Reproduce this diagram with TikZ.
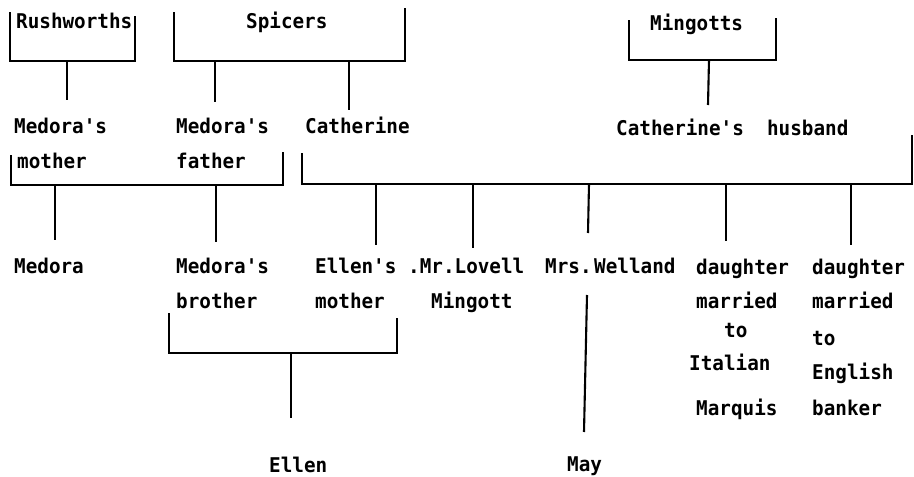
\documentclass[tikz,border=0pt]{standalone}
\usepackage{fontspec}
\setmonofont[FakeStretch=0.95]{DejaVu Sans Mono}
\begin{document}
\begin{tikzpicture}[x=1pt,y=-1pt,
  lbl/.style={anchor=base west,inner sep=0pt,font=\ttfamily\bfseries\fontsize{20.3}{21}\selectfont},
  ln/.style={line width=2.1pt,line join=miter,line cap=butt}]
\useasboundingbox (0,0) rectangle (914,477);
% ---- text nodes
\node[lbl] (rush) at (16,28) {Rushworths};
\node[lbl] (spic) at (246,28) {Spicers};
\node[lbl] (ming) at (650,30) {Mingotts};
\node[lbl] (mm1) at (14,133) {Medora's};
\node[lbl] (mm2) at (17,168) {mother};
\node[lbl] (mf1) at (176,133) {Medora's};
\node[lbl] (mf2) at (176,168) {father};
\node[lbl] (cath) at (305,133) {Catherine};
\node[lbl] (chus) at (616,135) {Catherine's\ \ husband};
\node[lbl] (medora) at (14,273) {Medora};
\node[lbl] (mb1) at (176,273) {Medora's};
\node[lbl] (mb2) at (176,308) {brother};
\node[lbl] (em1) at (315,273) {Ellen's};
\node[lbl] (em2) at (315,308) {mother};
\node[lbl] (lov1) at (408,273) {.Mr.Lovell};
\node[lbl] (lov2) at (431,308) {Mingott};
\node[lbl] (wel) at (545,273) {Mrs. \hspace{-9pt}Welland};
\node[lbl] (da1) at (696,274) {daughter};
\node[lbl] (da2) at (696,308) {married};
\node[lbl] (da3) at (724,337) {to};
\node[lbl] (da4) at (689,370) {Italian};
\node[lbl] (da5) at (696,415) {Marquis};
\node[lbl] (db1) at (812,274) {daughter};
\node[lbl] (db2) at (812,308) {married};
\node[lbl] (db3) at (812,345) {to};
\node[lbl] (db4) at (812,379) {English};
\node[lbl] (db5) at (812,415) {banker};
\node[lbl] (ellen) at (269,472) {Ellen};
\node[lbl] (may) at (567,471) {May};
% ---- bracket points and stem ends
\coordinate (rushL) at (10,12);  \coordinate (rushR) at (135,16);
\coordinate (rushB) at (67,61);  \coordinate (rushS) at (67,100);
\coordinate (spicL) at (174,12); \coordinate (spicR) at (405,8);
\coordinate (spicB1) at (215,61); \coordinate (spicS1) at (215,102);
\coordinate (spicB2) at (349,61); \coordinate (spicS2) at (349,110);
\coordinate (mingL) at (629,20); \coordinate (mingR) at (776,18);
\coordinate (mingB) at (709,60); \coordinate (mingS) at (708,105);
\coordinate (medL) at (11,155);  \coordinate (medR) at (283,152);
\coordinate (medB1) at (55,185); \coordinate (medS1) at (55,240);
\coordinate (medB2) at (216,185); \coordinate (medS2) at (216,242);
\coordinate (catL) at (302,153); \coordinate (catR) at (912,135);
\coordinate (catB1) at (376,184); \coordinate (catS1) at (376,245);
\coordinate (catB2) at (473,184); \coordinate (catS2) at (473,248);
\coordinate (catB3) at (589,184); \coordinate (catS3) at (588,233);
\coordinate (catB4) at (726,184); \coordinate (catS4) at (726,241);
\coordinate (catB5) at (851,184); \coordinate (catS5) at (851,245);
\coordinate (elL) at (169,313);  \coordinate (elR) at (397,318);
\coordinate (elB) at (291,353);  \coordinate (elS) at (291,418);
\coordinate (mayT) at (587,295); \coordinate (mayS) at (584,432);
% ---- brackets
\draw[ln] (rushL) -- (rushL |- rushB) -- (rushR |- rushB) -- (rushR);
\draw[ln] (spicL) -- (spicL |- spicB1) -- (spicR |- spicB1) -- (spicR);
\draw[ln] (mingL) -- (mingL |- mingB) -- (mingR |- mingB) -- (mingR);
\draw[ln] (medL) -- (medL |- medB1) -- (medR |- medB1) -- (medR);
\draw[ln] (catL) -- (catL |- catB1) -- (catR |- catB1) -- (catR);
\draw[ln] (elL) -- (elL |- elB) -- (elR |- elB) -- (elR);
% ---- stems
\draw[ln] (rushB) -- (rushS);
\draw[ln] (spicB1) -- (spicS1);
\draw[ln] (spicB2) -- (spicS2);
\draw[ln] (mingB) -- (mingS);
\draw[ln] (medB1) -- (medS1);
\draw[ln] (medB2) -- (medS2);
\draw[ln] (catB1) -- (catS1);
\draw[ln] (catB2) -- (catS2);
\draw[ln] (catB3) -- (catS3);
\draw[ln] (catB4) -- (catS4);
\draw[ln] (catB5) -- (catS5);
\draw[ln] (elB) -- (elS);
\draw[ln] (mayT) -- (mayS);
\end{tikzpicture}
\end{document}
